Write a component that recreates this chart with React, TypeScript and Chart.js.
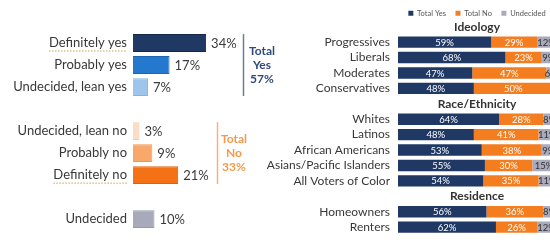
import React, { useEffect, useRef } from "react";
import { Chart, registerables } from "chart.js";

Chart.register(...registerables);

const FONT = "Lato, 'Open Sans', sans-serif";

// ---- Left panel data ----
const voteCategories = [
  "Definitely yes",
  "Probably yes",
  "Undecided, lean yes",
  "",
  "Undecided, lean no",
  "Probably no",
  "Definitely no",
  "",
  "Undecided",
];
const voteValues = [34, 17, 7, null, 3, 9, 21, null, 10];
const voteColors = ["#1f3864", "#2479cf", "#9ec6ec", "#ffffff", "#fbdcc4", "#f8a86a", "#f47116", "#ffffff", "#a8aabb"];
const voteBorders = ["#16294c", "#1b64b0", "#86b3e0", "#ffffff", "#f3c9a6", "#ee9550", "#dd620f", "#ffffff", "#9698ab"];
const underlinedLabels = ["Definitely yes", "Definitely no"];
const totalYesText = ["Total", "Yes", "57%"];
const totalNoText = ["Total", "No", "33%"];

// ---- Right panel data ----
const groupRows = [
  "Ideology",
  "Progressives",
  "Liberals",
  "Moderates",
  "Conservatives",
  "Race/Ethnicity",
  "Whites",
  "Latinos",
  "African Americans",
  "Asians/Pacific Islanders",
  "All Voters of Color",
  "Residence",
  "Homeowners",
  "Renters",
];
const titleRows = ["Ideology", "Race/Ethnicity", "Residence"];
const seriesNames = ["Total Yes", "Total No", "Undecided"];
const yesValues = [null, 59, 68, 47, 48, null, 64, 48, 53, 55, 54, null, 56, 62];
const noValues = [null, 29, 23, 47, 50, null, 28, 41, 38, 30, 35, null, 36, 26];
const undecidedValues = [null, 12, 9, 6, 2, null, 8, 11, 9, 15, 11, null, 8, 12];
const seriesColors = ["#203864", "#f47d20", "#a9aabb"];

const leftPlugin = {
  id: "leftAnno",
  afterDatasetsDraw(chart: any) {
    const ctx = chart.ctx;
    const meta = chart.getDatasetMeta(0);
    ctx.save();
    ctx.font = `13px ${FONT}`;
    ctx.fillStyle = "#3a3a3a";
    ctx.textBaseline = "middle";
    ctx.textAlign = "left";
    meta.data.forEach((bar: any, i: number) => {
      const v = voteValues[i];
      if (v == null) return;
      ctx.fillText(`${v}%`, bar.x + 5, bar.y + 1);
    });

    const drawBracket = (from: number, to: number, x: number, textX: number, lines: string[], lineColor: string, textColor: string) => {
      const b0 = meta.data[from];
      const b1 = meta.data[to];
      const top = b0.y - b0.height / 2;
      const bottom = b1.y + b1.height / 2;
      ctx.strokeStyle = lineColor;
      ctx.lineWidth = 1.5;
      ctx.beginPath();
      ctx.moveTo(x, top);
      ctx.lineTo(x, bottom);
      ctx.stroke();
      ctx.font = `bold 12px ${FONT}`;
      ctx.fillStyle = textColor;
      ctx.textAlign = "center";
      const mid = (top + bottom) / 2;
      lines.forEach((t, k) => ctx.fillText(t, textX, mid + (k - 1) * 14));
    };
    drawBracket(0, 2, 243.5, 262, totalYesText, "#6f7c98", "#2f4a7a");
    drawBracket(4, 6, 217.5, 234, totalNoText, "#f6b27e", "#f39a4c");

    // spell-check style dotted underline
    const ys = chart.scales.y;
    ctx.font = `13px ${FONT}`;
    ctx.strokeStyle = "#c9a24a";
    ctx.lineWidth = 1;
    ctx.setLineDash([1.5, 1.5]);
    voteCategories.forEach((c, i) => {
      if (!underlinedLabels.includes(c)) return;
      const w = ctx.measureText(c).width;
      const right = chart.chartArea.left - 6;
      const y = ys.getPixelForValue(i) + 8;
      ctx.beginPath();
      ctx.moveTo(right - w, y);
      ctx.lineTo(right, y);
      ctx.stroke();
    });
    ctx.restore();
  },
};

const rightPlugin = {
  id: "rightAnno",
  afterDatasetsDraw(chart: any) {
    const ctx = chart.ctx;
    ctx.save();
    ctx.font = `9.5px ${FONT}`;
    ctx.textAlign = "center";
    ctx.textBaseline = "middle";
    chart.data.datasets.forEach((ds: any, di: number) => {
      const meta = chart.getDatasetMeta(di);
      meta.data.forEach((bar: any, i: number) => {
        const v = ds.data[i];
        if (v == null || v < 5) return;
        const cx = (bar.x + bar.base) / 2;
        ctx.fillStyle = di === 2 ? "#333333" : "#ffffff";
        ctx.fillText(`${v}%`, cx, bar.y + 0.5);
      });
    });
    const ys = chart.scales.y;
    ctx.font = `bold 12px ${FONT}`;
    ctx.fillStyle = "#333333";
    const cx = (chart.chartArea.left + chart.chartArea.right) / 2;
    groupRows.forEach((r, i) => {
      if (titleRows.includes(r)) ctx.fillText(r, cx, ys.getPixelForValue(i));
    });
    ctx.restore();
  },
};

export default function App() {
  const leftRef = useRef<HTMLCanvasElement>(null);
  const rightRef = useRef<HTMLCanvasElement>(null);

  useEffect(() => {
    Chart.defaults.font.family = FONT;
    const left = new Chart(leftRef.current!, {
      type: "bar",
      data: {
        labels: voteCategories,
        datasets: [
          {
            data: voteValues as any,
            backgroundColor: voteColors,
            borderColor: voteBorders,
            borderWidth: 1,
            barPercentage: 0.81,
            categoryPercentage: 1,
          },
        ],
      },
      options: {
        indexAxis: "y",
        responsive: false,
        animation: false,
        layout: { padding: { top: 32, bottom: 12, left: 0, right: 18 } },
        plugins: { legend: { display: false }, tooltip: { enabled: false } },
        scales: {
          x: { display: false, min: 0, max: 60 },
          y: {
            grid: { display: false, drawTicks: false },
            border: { display: false },
            ticks: { autoSkip: false, padding: 6, color: "#383838", font: { size: 13, family: FONT } },
            afterFit: (s: any) => {
              s.width = 133;
            },
          },
        },
      },
      plugins: [leftPlugin],
    });

    const right = new Chart(rightRef.current!, {
      type: "bar",
      data: {
        labels: groupRows,
        datasets: [
          { label: seriesNames[0], data: yesValues as any, backgroundColor: seriesColors[0], barPercentage: 0.74, categoryPercentage: 1 },
          { label: seriesNames[1], data: noValues as any, backgroundColor: seriesColors[1], barPercentage: 0.74, categoryPercentage: 1 },
          { label: seriesNames[2], data: undecidedValues as any, backgroundColor: seriesColors[2], barPercentage: 0.74, categoryPercentage: 1 },
        ],
      },
      options: {
        indexAxis: "y",
        responsive: false,
        animation: false,
        layout: { padding: { top: 0, bottom: 5.6, left: 0, right: 14 } },
        plugins: {
          tooltip: { enabled: false },
          legend: {
            position: "top",
            fullSize: false,
            maxHeight: 19,
            labels: { boxWidth: 5, boxHeight: 5, padding: 9.5, color: "#555555", font: { size: 7.5, family: FONT } },
          },
        },
        scales: {
          x: { display: false, stacked: true, min: 0, max: 100 },
          y: {
            stacked: true,
            grid: { display: false, drawTicks: false },
            border: { display: false },
            ticks: {
              autoSkip: false,
              padding: 8,
              color: "#383838",
              font: { size: 12, family: FONT },
              callback: (_v: any, i: number) => (titleRows.includes(groupRows[i]) ? "" : groupRows[i]),
            },
            afterFit: (s: any) => {
              s.width = 148;
            },
          },
        },
      },
      plugins: [rightPlugin],
    });

    return () => {
      left.destroy();
      right.destroy();
    };
  }, []);

  return (
    <div style={{ position: "fixed", left: 0, top: 0, width: 550, height: 244, overflow: "hidden", background: "#ffffff" }}>
      <div style={{ position: "absolute", left: 0, top: 0 }}>
        <canvas ref={leftRef} width={280} height={244} />
      </div>
      <div style={{ position: "absolute", left: 250, top: 0 }}>
        <canvas ref={rightRef} width={320} height={250} />
      </div>
    </div>
  );
}
